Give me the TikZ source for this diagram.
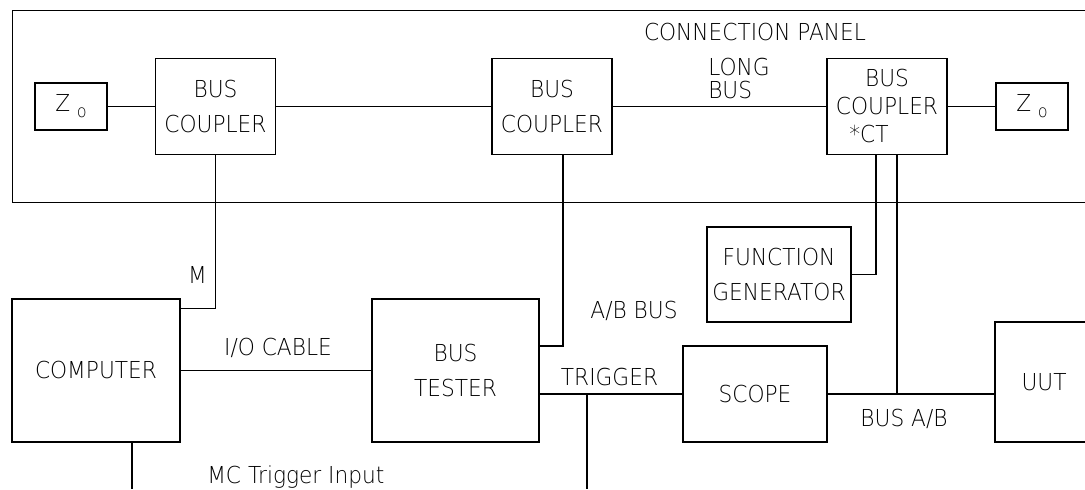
\documentclass[tikz,border=0pt]{standalone}
\usepackage{fontspec}
\newfontfamily\cad[FakeStretch=0.93]{DejaVu Sans ExtraLight}
\newcommand\cadfont{\cad\fontsize{17.5}{26.25}\selectfont}
\newcommand\zsub{Z\hspace{5pt}\raisebox{-4.5pt}{\fontsize{13}{13}\selectfont o}}
\tikzset{
  blk/.style={draw, line width=0.8pt, inner sep=0pt, align=center, font=\cadfont},
  lbl/.style={inner sep=0pt, font=\cadfont},
  wire/.style={line width=0.8pt}
}
\begin{document}
\begin{tikzpicture}[x=0.75pt, y=-0.75pt]
\clip (0,0) rectangle (1085,489);
\fill[white] (0,0) rectangle (1085,489);
% connection panel (open on the right)
\node[draw, line width=0.8pt, minimum width=816pt, minimum height=144pt, anchor=north west, inner sep=0pt] (panel) at (12,10) {};
\node[lbl] (paneltitle) at (755,32) {CONNECTION PANEL};
% panel blocks
\node[blk, minimum width=54pt, minimum height=35.25pt] (z1) at (71,106.5) {\zsub};
\node[blk, minimum width=90pt, minimum height=72pt] (bc1) at (215.5,106.5) {BUS\\COUPLER};
\node[blk, minimum width=90pt, minimum height=72pt] (bc2) at (552,106.5) {BUS\\COUPLER};
\node[blk, minimum width=90pt, minimum height=72pt, font=\cad\fontsize{17.5}{21}\selectfont] (bc3) at (887,106.5) {BUS\\COUPLER\\*CT\hspace*{27pt}};
\node[blk, minimum width=54pt, minimum height=35.25pt] (z2) at (1032,106.5) {\zsub};
\node[lbl, align=left, anchor=west, font=\cad\fontsize{17.5}{17.25}\selectfont] (longbus) at (708,78.5) {LONG\\BUS};
% lower blocks
\node[blk, minimum width=126pt, minimum height=107.25pt] (comp) at (96,370.5) {COMPUTER};
\node[blk, minimum width=125.25pt, minimum height=107.25pt] (tester) at (455.5,370.5) {BUS\\TESTER};
\node[blk, minimum width=108pt, minimum height=71.25pt] (fg) at (779,274.5) {FUNCTION\\GENERATOR};
\node[blk, minimum width=108pt, minimum height=72pt] (scope) at (755,394) {SCOPE};
\node[blk, minimum width=73.5pt, minimum height=90pt] (uut) at (1044,382) {UUT};
% labels
\node[lbl] (mlab) at (197.5,275) {M};
\node[lbl] (iolab) at (278,348) {I/O CABLE};
\node[lbl] (ablab) at (634,311) {A/B BUS};
\node[lbl] (trglab) at (609.5,377) {TRIGGER};
\node[lbl] (bablab) at (904,419) {BUS A/B};
\node[lbl, anchor=west] (mclab) at (207,477) {MC Trigger Input};
% free ends
\coordinate (mcend) at (132,489);
\coordinate (trgend) at (587,489);
% connectors in panel
\draw[wire] (z1.east) -- (bc1.west);
\draw[wire] (bc1.east) -- (bc2.west);
\draw[wire] (bc2.east) -- (bc3.west);
\draw[wire] (bc3.east) -- (z2.west);
% M line
\draw[wire] (bc1.south) |- ([yshift=-7.5pt]comp.north east);
% I/O cable
\draw[wire] (comp.east) -- (tester.west);
% MC trigger input
\draw[wire] (mcend |- comp.south) -- (mcend);
% A/B bus
\draw[wire] ([xshift=8.25pt]bc2.south) |- ([yshift=18.4pt]tester.east);
% trigger
\draw[wire] (tester.east |- scope.west) -- (scope.west);
\draw[wire] (trgend |- scope.west) -- (trgend);
% function generator
\draw[wire] ([xshift=-8.25pt]bc3.south) |- (fg.east);
% bus A/B
\draw[wire] (scope.east) -- (uut.west |- scope.east);
\draw[wire] ([xshift=7.5pt]bc3.south) -- ([xshift=7.5pt]bc3.south |- scope.east);
\end{tikzpicture}
\end{document}
